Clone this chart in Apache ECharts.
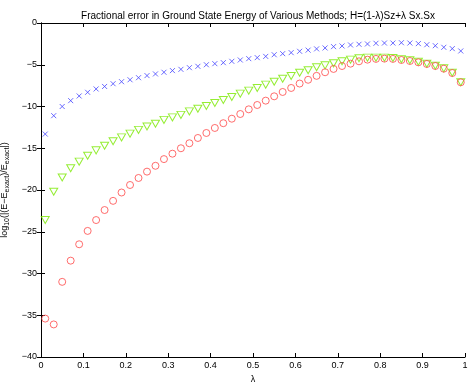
<!DOCTYPE html>
<html>
<head>
<meta charset="utf-8">
<script src="https://cdn.jsdelivr.net/npm/echarts@6/dist/echarts.min.js"></script>
<style>
  html, body { margin: 0; padding: 0; background: #fff; }
  #main { width: 471px; height: 384px; }
</style>
</head>
<body>
<div id="main"></div>
<script>
// lambda values, one point every 0.02
const lambda = [0.01, 0.03, 0.05, 0.07, 0.09, 0.11, 0.13, 0.15, 0.17, 0.19,
  0.21, 0.23, 0.25, 0.27, 0.29, 0.31, 0.33, 0.35, 0.37, 0.39,
  0.41, 0.43, 0.45, 0.47, 0.49, 0.51, 0.53, 0.55, 0.57, 0.59,
  0.61, 0.63, 0.65, 0.67, 0.69, 0.71, 0.73, 0.75, 0.77, 0.79,
  0.81, 0.83, 0.85, 0.87, 0.89, 0.91, 0.93, 0.95, 0.97, 0.99];

// blue crosses
const errCross = [-13.3, -11.1, -10.0, -9.3, -8.74, -8.3, -7.9, -7.6, -7.27, -7.03,
  -6.8, -6.55, -6.3, -6.1, -5.9, -5.7, -5.55, -5.35, -5.19, -5.0,
  -4.87, -4.75, -4.59, -4.43, -4.27, -4.15, -4.0, -3.8, -3.67, -3.55,
  -3.39, -3.25, -3.1, -2.99, -2.83, -2.75, -2.63, -2.55, -2.51, -2.43,
  -2.4, -2.4, -2.36, -2.4, -2.47, -2.6, -2.72, -2.91, -3.07, -3.35];

// green triangles
const errTri = [-23.6, -20.2, -18.5, -17.4, -16.6, -15.9, -15.25, -14.7, -14.17, -13.7,
  -13.25, -12.8, -12.4, -12.06, -11.6, -11.3, -11.0, -10.58, -10.26, -9.94,
  -9.58, -9.22, -8.86, -8.46, -8.1, -7.78, -7.38, -7.03, -6.67, -6.35,
  -5.95, -5.65, -5.3, -5.07, -4.83, -4.59, -4.39, -4.23, -4.15, -4.15,
  -4.15, -4.19, -4.35, -4.47, -4.63, -4.87, -5.11, -5.43, -5.95, -7.1];

// red circles
const errCircle = [-35.4, -36.1, -31.0, -28.46, -26.5, -24.9, -23.6, -22.4, -21.3, -20.3,
  -19.4, -18.56, -17.8, -17.1, -16.3, -15.65, -15.0, -14.4, -13.77, -13.17,
  -12.57, -12.0, -11.46, -10.9, -10.34, -9.82, -9.3, -8.78, -8.26, -7.78,
  -7.25, -6.8, -6.33, -5.9, -5.5, -5.15, -4.87, -4.59, -4.39, -4.3,
  -4.27, -4.3, -4.43, -4.55, -4.71, -4.91, -5.15, -5.47, -5.99, -7.1];

const font = 'Liberation Sans';
const pairs = ys => lambda.map((x, i) => [x, ys[i]]);
const minus = v => String(v).replace('-', '\u2212');

const boxAxis = {
  min: 0, max: 1, interval: 0.1,
  axisLine: { show: true, lineStyle: { color: '#000', width: 1 } },
  axisTick: { show: true, inside: true, length: 4, lineStyle: { color: '#000' } },
  axisLabel: { show: false },
  splitLine: { show: false }
};

const config = {
  animation: false,
  backgroundColor: '#fff',
  title: {
    text: 'Fractional error in Ground State Energy of Various Methods; H=(1-\u03bb)Sz+\u03bb Sx.Sx',
    left: 253, top: 6, textAlign: 'center',
    textStyle: { fontFamily: font, fontSize: 10, fontWeight: 'normal', color: '#000' }
  },
  grid: { left: 41, right: 6, top: 23, bottom: 27, containLabel: false, outerBoundsMode: 'none' },
  xAxis: [
    {
      type: 'value', min: 0, max: 1, interval: 0.1,
      name: '\u03bb', nameLocation: 'middle', nameGap: 18,
      nameTextStyle: { fontFamily: font, fontSize: 9, color: '#000' },
      axisLine: { show: true, onZero: false, lineStyle: { color: '#000', width: 1 } },
      axisTick: { show: true, inside: true, length: 4, lineStyle: { color: '#000' } },
      axisLabel: { fontFamily: font, fontSize: 9, color: '#000', margin: 4,
        formatter: v => String(Math.round(v * 10) / 10) },
      splitLine: { show: false }
    },
    Object.assign({ type: 'value', position: 'top' }, boxAxis)
  ],
  yAxis: [
    {
      type: 'value', min: -40, max: 0, interval: 5,
      name: '{n|log}{s|10}{n|(|(E\u2212E}{s|exact}{n|)/E}{s|exact}{n||)}',
      nameLocation: 'middle', nameGap: 24, nameRotate: 90,
      nameTextStyle: {
        fontFamily: font, color: '#000',
        rich: {
          n: { fontFamily: font, fontSize: 9, color: '#000', lineHeight: 12 },
          s: { fontFamily: font, fontSize: 7, color: '#000', lineHeight: 7, verticalAlign: 'bottom' }
        }
      },
      axisLine: { show: true, onZero: false, lineStyle: { color: '#000', width: 1 } },
      axisTick: { show: true, inside: true, length: 4, lineStyle: { color: '#000' } },
      axisLabel: { fontFamily: font, fontSize: 9, color: '#000', margin: 4, formatter: minus },
      splitLine: { show: false }
    },
    Object.assign({}, boxAxis, { type: 'value', position: 'right', min: -40, max: 0, interval: 5 })
  ],
  series: [
    {
      name: 'cross', type: 'scatter', data: pairs(errCross),
      symbol: 'path://M0,0L10,10M10,0L0,10', symbolSize: 5,
      itemStyle: { color: 'none', borderColor: '#4646ff', borderWidth: 1 }
    },
    {
      name: 'triangle', type: 'scatter', data: pairs(errTri),
      symbol: 'path://M0,0L10,0L5,9Z', symbolSize: [8, 7],
      itemStyle: { color: 'none', borderColor: '#7ae800', borderWidth: 1 }
    },
    {
      name: 'circle', type: 'scatter', data: pairs(errCircle),
      symbol: 'circle', symbolSize: 7,
      itemStyle: { color: 'none', borderColor: '#ff4848', borderWidth: 1 }
    }
  ]
};

const myChart = echarts.init(document.getElementById('main'), null, { renderer: 'canvas' });
myChart.setOption(config);
</script>
</body>
</html>
